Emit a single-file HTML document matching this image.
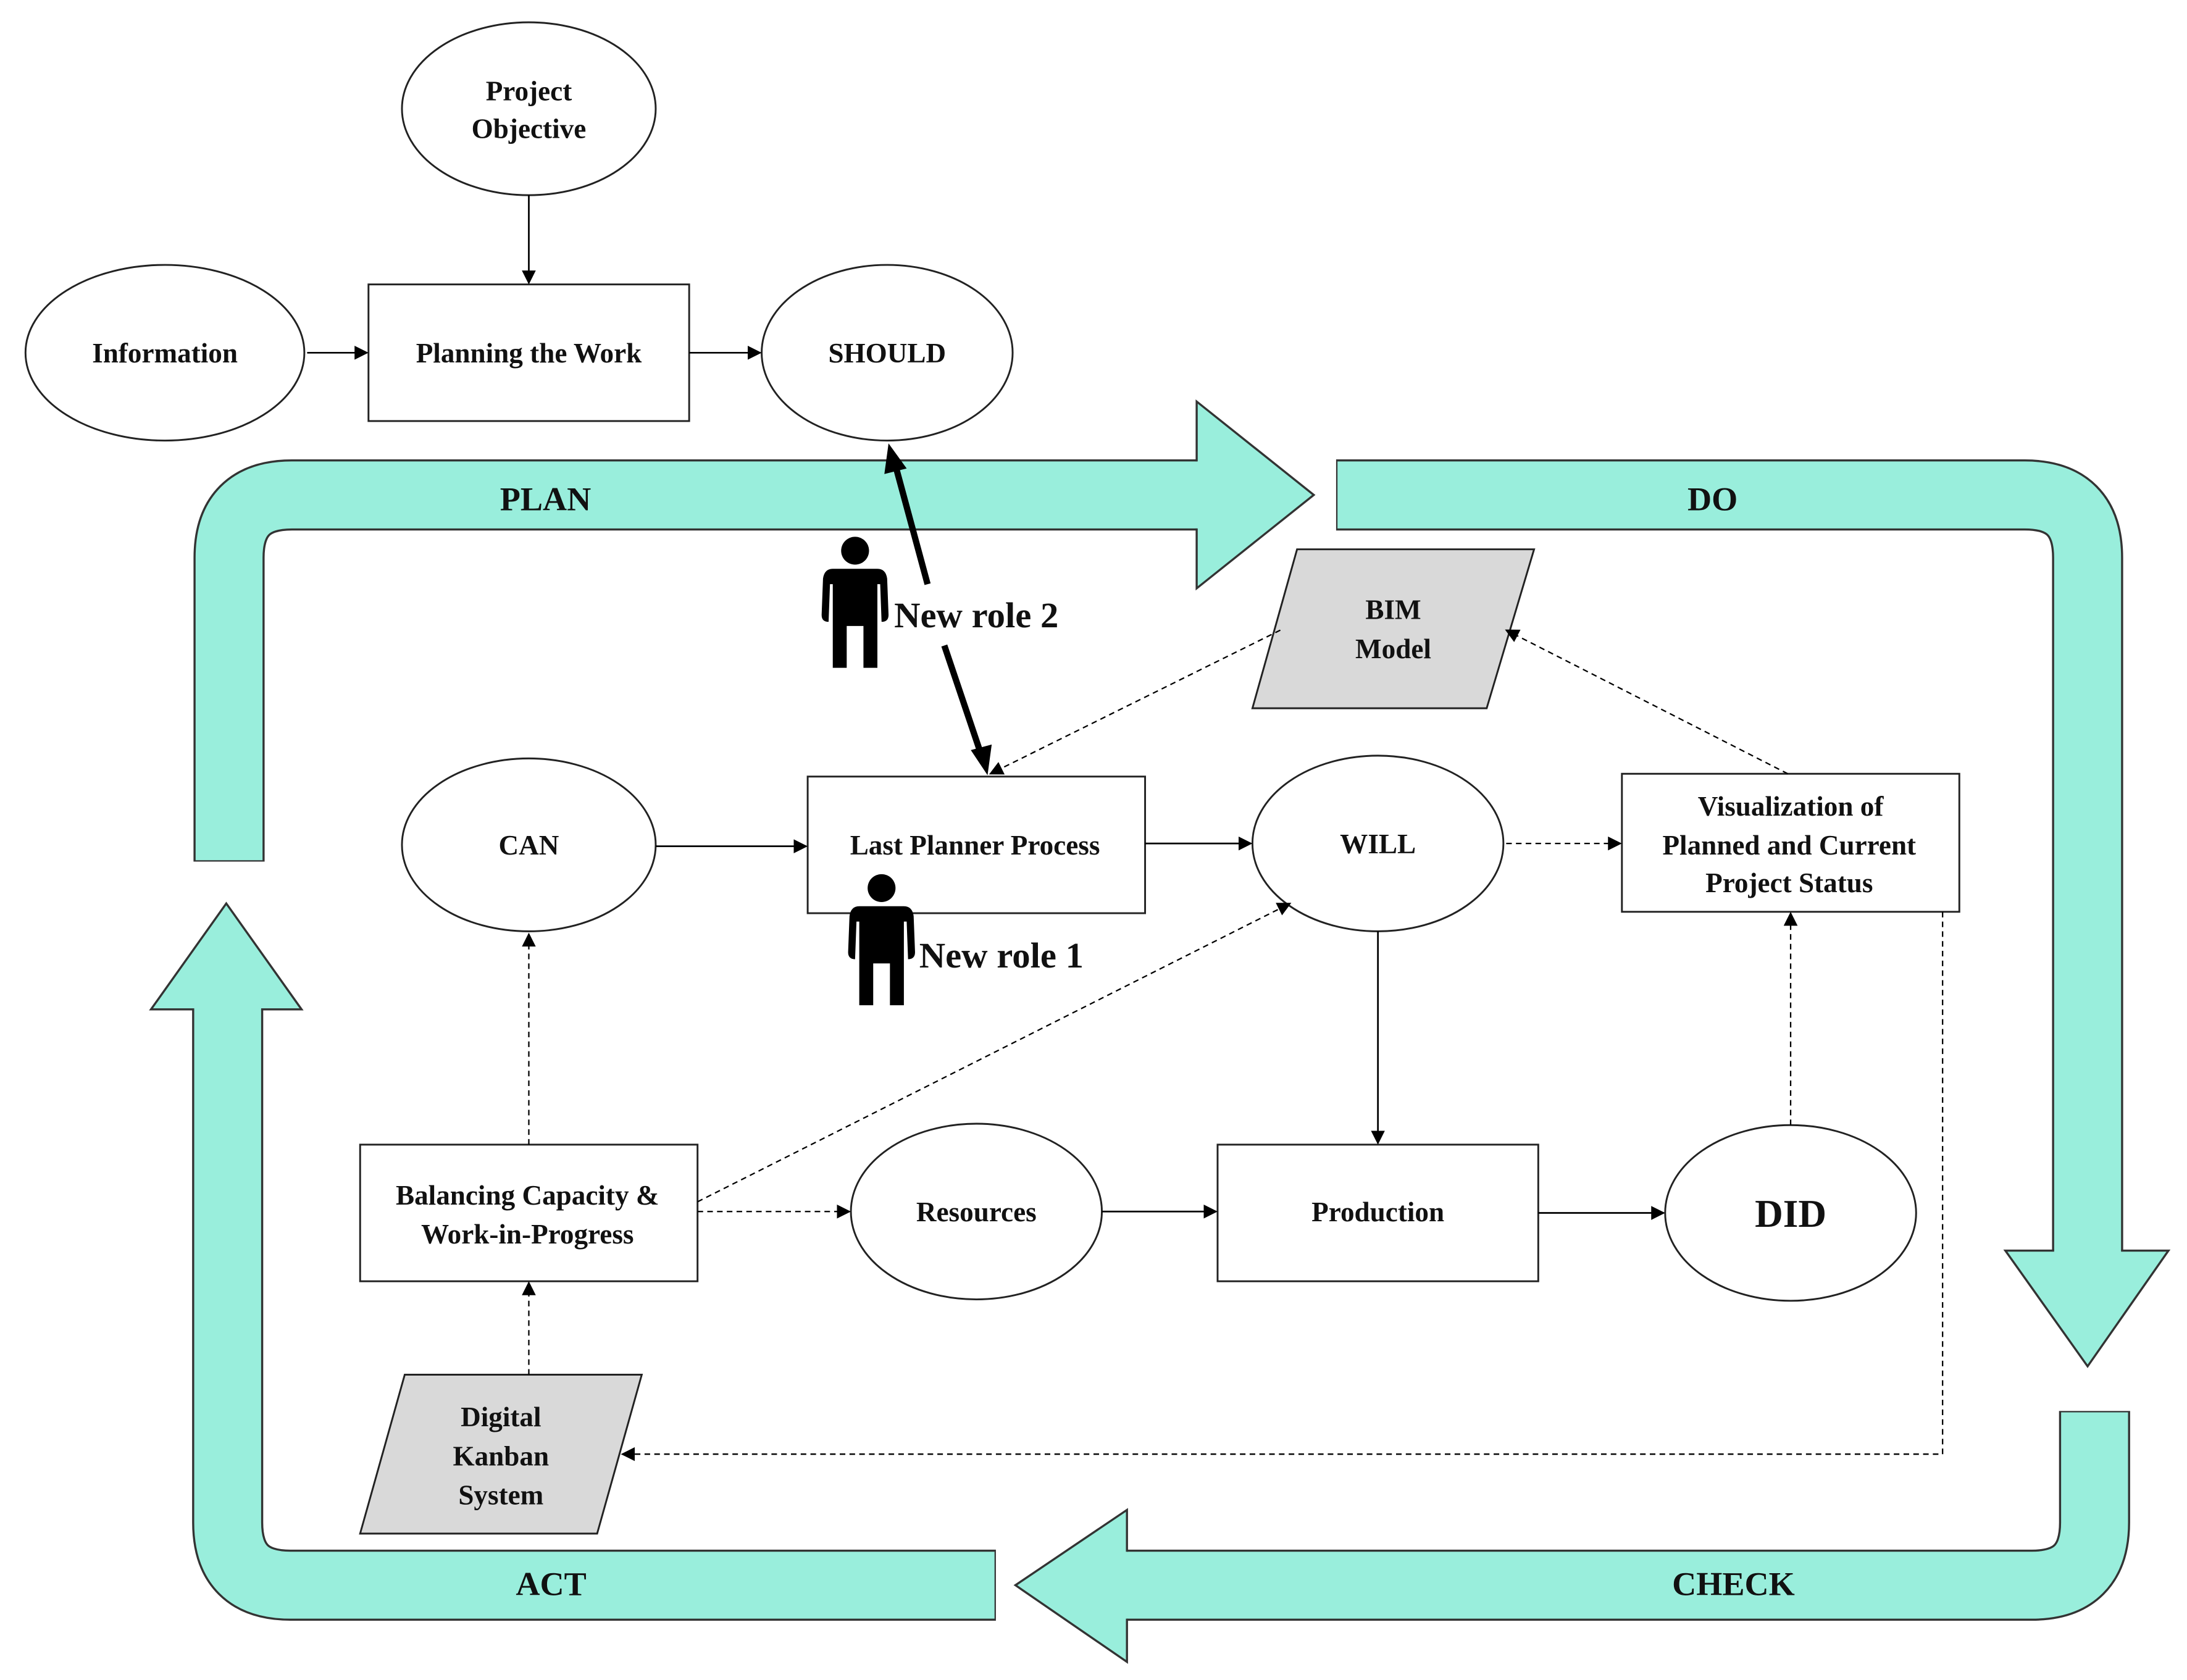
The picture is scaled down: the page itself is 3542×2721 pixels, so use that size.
<!DOCTYPE html>
<html><head><meta charset="utf-8"><style>
html,body{margin:0;padding:0;background:#fff;}
svg{display:block;}
text{font-family:"Liberation Serif",serif;font-weight:bold;fill:#111;}
</style></head><body>
<svg width="3542" height="2721" viewBox="0 0 1568 1205" xmlns="http://www.w3.org/2000/svg">
<defs>
<marker id="a" markerWidth="10" markerHeight="10" refX="9" refY="5" orient="auto" markerUnits="userSpaceOnUse"><path d="M0,0 L10,5 L0,10z" fill="#000"/></marker>
<g id="p"><circle cx="0" cy="0" r="10" fill="#000"/><path d="M-16,13 H16 Q22,13 23,20 L24,46 Q24,51 19,51 L18,24 L16,24 L16,84 H6 V54 H-6 V84 H-16 V24 L-18,24 L-19,51 Q-24,51 -24,46 L-23,20 Q-22,13 -16,13z" fill="#000"/></g>
</defs>
<g fill="none" stroke-linejoin="round">
<path d="M164,618 V400 Q164,355 209,355 H858" stroke="#333" stroke-width="51"/>
<path d="M164,617 V400 Q164,355 209,355 H859" stroke="#99EEDC" stroke-width="48"/>
<path d="M958,355 H1452 Q1497,355 1497,400 V897" stroke="#333" stroke-width="51"/>
<path d="M959,355 H1452 Q1497,355 1497,400 V898" stroke="#99EEDC" stroke-width="48"/>
<path d="M1502,1012 V1092 Q1502,1137 1457,1137 H808" stroke="#333" stroke-width="51"/>
<path d="M1502,1013 V1092 Q1502,1137 1457,1137 H807" stroke="#99EEDC" stroke-width="48"/>
<path d="M714,1137 H208 Q163,1137 163,1092 V724" stroke="#333" stroke-width="51"/>
<path d="M713,1137 H208 Q163,1137 163,1092 V723" stroke="#99EEDC" stroke-width="48"/>
</g>
<g fill="#99EEDC" stroke="#333" stroke-width="1.5">
<path d="M858,331 V288 L942,355 L858,422 V379"/>
<path d="M1473,897 H1438 L1497,980 L1555,897 H1521"/>
<path d="M808,1113 V1083 L728,1137 L808,1192 V1161"/>
<path d="M139,724 H108 L162,648 L216,724 H187"/>
</g>
<g font-size="24" text-anchor="middle">
<text x="391" y="366">PLAN</text><text x="1228" y="366">DO</text>
<text x="1243" y="1144">CHECK</text><text x="395" y="1144">ACT</text>
</g>
<g stroke="#222" stroke-width="1.3" fill="#fff">
<ellipse cx="379" cy="78" rx="91" ry="62"/>
<ellipse cx="118" cy="253" rx="100" ry="63"/>
<rect x="264" y="204" width="230" height="98"/>
<ellipse cx="636" cy="253" rx="90" ry="63"/>
<ellipse cx="379" cy="606" rx="91" ry="62"/>
<rect x="579" y="557" width="242" height="98"/>
<ellipse cx="988" cy="605" rx="90" ry="63"/>
<rect x="1163" y="555" width="242" height="99"/>
<rect x="258" y="821" width="242" height="98"/>
<ellipse cx="700" cy="869" rx="90" ry="63"/>
<rect x="873" y="821" width="230" height="98"/>
<ellipse cx="1284" cy="870" rx="90" ry="63"/>
<path d="M930,394 H1100 L1066,508 H898z" fill="#d9d9d9"/>
<path d="M290,986 H460 L428,1100 H258z" fill="#d9d9d9"/>
</g>
<g stroke="#000" stroke-width="1.2" fill="none" marker-end="url(#a)">
<path d="M379,140 V203"/><path d="M220,253 H263"/><path d="M494,253 H545"/>
<path d="M470,607 H578"/><path d="M821,605 H897"/><path d="M988,668 V820"/>
<path d="M790,869 H872"/><path d="M1103,870 H1193"/>
</g>
<g stroke="#000" stroke-width="1" fill="none" stroke-dasharray="4,3" marker-end="url(#a)">
<path d="M1080,605 H1162"/><path d="M1284,807 V655"/><path d="M1282,555 L1080,452"/>
<path d="M918,452 L710,555"/><path d="M379,821 V670"/><path d="M500,862 L925,648"/>
<path d="M500,869 H609"/><path d="M379,986 V920"/><path d="M1393,654 V1043 H446"/>
</g>
<path d="M642,334 L665,419 M677,463 L703,540" stroke="#000" stroke-width="4.5" fill="none"/>
<path d="M650,336 L637,318 L634,340z M696,538 L708,556 L711,534z" fill="#000"/>
<use href="#p" x="613" y="395"/>
<use href="#p" x="632" y="637"/>
<g font-size="20" text-anchor="middle">
<text x="379" y="72">Project</text><text x="379" y="99">Objective</text>
<text x="118" y="260">Information</text>
<text x="379" y="260">Planning the Work</text>
<text x="636" y="260">SHOULD</text>
<text x="379" y="613">CAN</text>
<text x="699" y="613">Last Planner Process</text>
<text x="988" y="612">WILL</text>
<text x="1284" y="585">Visualization of</text>
<text x="1283" y="613">Planned and Current</text>
<text x="1283" y="640">Project Status</text>
<text x="999" y="444">BIM</text><text x="999" y="472">Model</text>
<text x="378" y="864">Balancing Capacity &amp;</text>
<text x="378" y="892">Work-in-Progress</text>
<text x="700" y="876">Resources</text>
<text x="988" y="876">Production</text>
<text x="359" y="1023">Digital</text><text x="359" y="1051">Kanban</text><text x="359" y="1079">System</text>
</g>
<text x="1284" y="880" font-size="28" text-anchor="middle">DID</text>
<text x="641" y="450" font-size="26">New role 2</text>
<text x="659" y="694" font-size="26">New role 1</text>
</svg>
</body></html>
